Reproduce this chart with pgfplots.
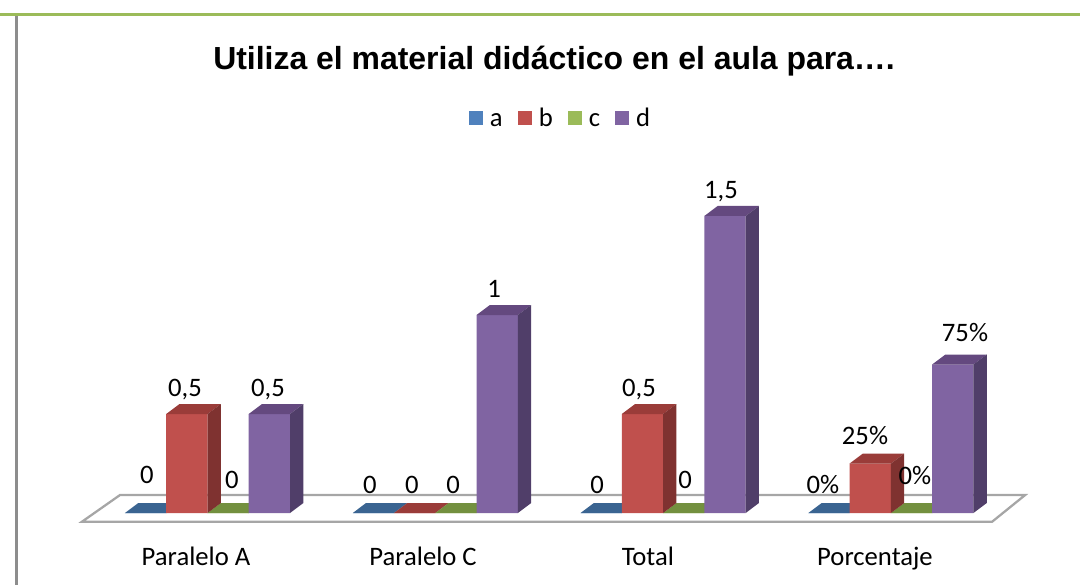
\documentclass[border=0pt]{standalone}
\usepackage{pgfplots}
\pgfplotsset{compat=1.18}
\usepackage{fontspec}
\setmainfont{Carlito}
\newfontfamily\titlefont{Liberation Sans}
\definecolor{cA}{HTML}{4F81BD}\definecolor{cAt}{HTML}{3A6491}
\definecolor{cB}{HTML}{C0504D}\definecolor{cBt}{HTML}{9A3C39}\definecolor{cBs}{HTML}{7F3230}
\definecolor{cC}{HTML}{9BBB59}\definecolor{cCt}{HTML}{73903F}
\definecolor{cD}{HTML}{8064A2}\definecolor{cDt}{HTML}{64497F}\definecolor{cDs}{HTML}{503E69}
\definecolor{floorline}{HTML}{A6A6A6}
% depth faces of a 3-D bar: #1 bar centre, #2 value, #3 top colour, #4 side colour
\newcommand\depth[4]{%
  \pgfmathsetmacro\xl{#1-0.0907}\pgfmathsetmacro\xr{#1+0.0907}%
  \pgfmathsetmacro\xlb{\xl+0.0584}\pgfmathsetmacro\xrb{\xr+0.0584}%
  \pgfmathsetmacro\yt{#2+0.0505}%
  \addplot[forget plot,fill=#3,draw=none] coordinates {(\xl,#2) (\xr,#2) (\xrb,\yt) (\xlb,\yt)} --cycle;
  \addplot[forget plot,fill=#4,draw=none] coordinates {(\xr,0) (\xrb,0.0505) (\xrb,\yt) (\xr,#2)} --cycle;
}
\newcommand\lab[3]{\node[anchor=base,inner sep=0pt,font=\lblfont] at ({#1*0.75pt},{(585-#2)*0.75pt}) {#3};}
\newcommand\lblfont{\fontsize{20pt}{23pt}\selectfont}
\pgfplotstableread{
x a b c d
0 0 0.5 0 0.5
1 0 0 0 1
2 0 0.5 0 1.5
3 0 0.25 0 0.75
}\datatable
\pgfplotsset{front/.style={ybar,bar width=31pt,draw=none,fill=#1,
  legend image code/.code={\fill[#1,draw=none] (0pt,-5.25pt) rectangle (10.5pt,5.25pt);}}}
\begin{document}
\begin{tikzpicture}
\useasboundingbox (0,0) rectangle (810pt,438.75pt);
\begin{axis}[
  at={(0,0)},anchor=south west,scale only axis,width=810pt,height=438.75pt,
  xmin=-0.9109,xmax=3.8301,ymin=-0.3636,ymax=2.5909,
  clip=false,
  axis line style={draw=none},
  major tick length=0pt,
  ytick=\empty,
  xtick={-0.0505,0.946,1.933,2.930},
  xticklabels={Paralelo A,Paralelo C,Total,Porcentaje},
  xticklabel style={anchor=base,yshift=14.75pt,font=\lblfont},
  title={\titlefont\bfseries\fontsize{23.95pt}{27pt}\selectfont Utiliza el material didáctico en el aula para….},
  title style={at={(axis description cs:0.513,0.868)},anchor=base,inner sep=0pt},
  legend style={at={(axis description cs:0.4343,0.7985)},anchor=west,draw=none,fill=none,
    legend columns=4,font=\lblfont,inner sep=0pt,row sep=0pt,
    nodes={text height=16pt,text depth=2.5pt},
    /tikz/every even column/.append style={column sep=9.5pt}},
  legend cell align=left,
]
% floor
\addplot[forget plot,draw=floorline,line width=1.7pt,fill=none] coordinates
 {(-0.3840,0.0909) (3.5894,0.0909) (3.4445,-0.0439) (-0.5510,-0.0439)} --cycle;
% depth faces of the empty bars, behind the fronts
\depth{-0.2717}{0}{cAt}{cAt}\depth{0.0906}{0}{cCt}{cCt}
\depth{0.7283}{0}{cAt}{cAt}\depth{0.9094}{0}{cBt}{cBs}\depth{1.0906}{0}{cCt}{cCt}
\depth{1.7283}{0}{cAt}{cAt}\depth{2.0906}{0}{cCt}{cCt}
\depth{2.7283}{0}{cAt}{cAt}\depth{3.0906}{0}{cCt}{cCt}
% front faces
\addplot[front=cA,bar shift=-46.4pt] table[x=x,y=a]{\datatable}; \addlegendentry{\hspace{3pt}a}
\addplot[front=cB,bar shift=-15.5pt] table[x=x,y=b]{\datatable}; \addlegendentry{\hspace{3pt}b}
\addplot[front=cC,bar shift=15.5pt] table[x=x,y=c]{\datatable}; \addlegendentry{\hspace{3pt}c}
\addplot[front=cD,bar shift=46.4pt] table[x=x,y=d]{\datatable}; \addlegendentry{\hspace{3pt}d}
% depth faces of the standing bars
\depth{-0.0906}{0.5}{cBt}{cBs}\depth{0.2717}{0.5}{cDt}{cDs}
\depth{1.2717}{1}{cDt}{cDs}
\depth{1.9094}{0.5}{cBt}{cBs}\depth{2.2717}{1.5}{cDt}{cDs}
\depth{2.9094}{0.25}{cBt}{cBs}\depth{3.2717}{0.75}{cDt}{cDs}
\end{axis}
% frame
\fill[cC] (0,{(585-16)*0.75pt}) rectangle (810pt,{(585-13)*0.75pt});
\fill[floorline!85!black] ({15*0.75pt},0) rectangle ({18*0.75pt},{(585-16)*0.75pt});
% value labels
\lab{147}{483.5}{0}\lab{185}{397}{0,5}\lab{232}{488}{0}\lab{268}{397}{0,5}
\lab{370}{493}{0}\lab{412}{493}{0}\lab{453}{493}{0}\lab{494}{298}{1}
\lab{597}{493}{0}\lab{639}{397}{0,5}\lab{685}{488}{0}\lab{721}{199}{1,5}
\lab{823}{493}{0\%}\lab{865}{445}{25\%}\lab{915}{485}{0\%}\lab{965}{342}{75\%}
\end{tikzpicture}
\end{document}
